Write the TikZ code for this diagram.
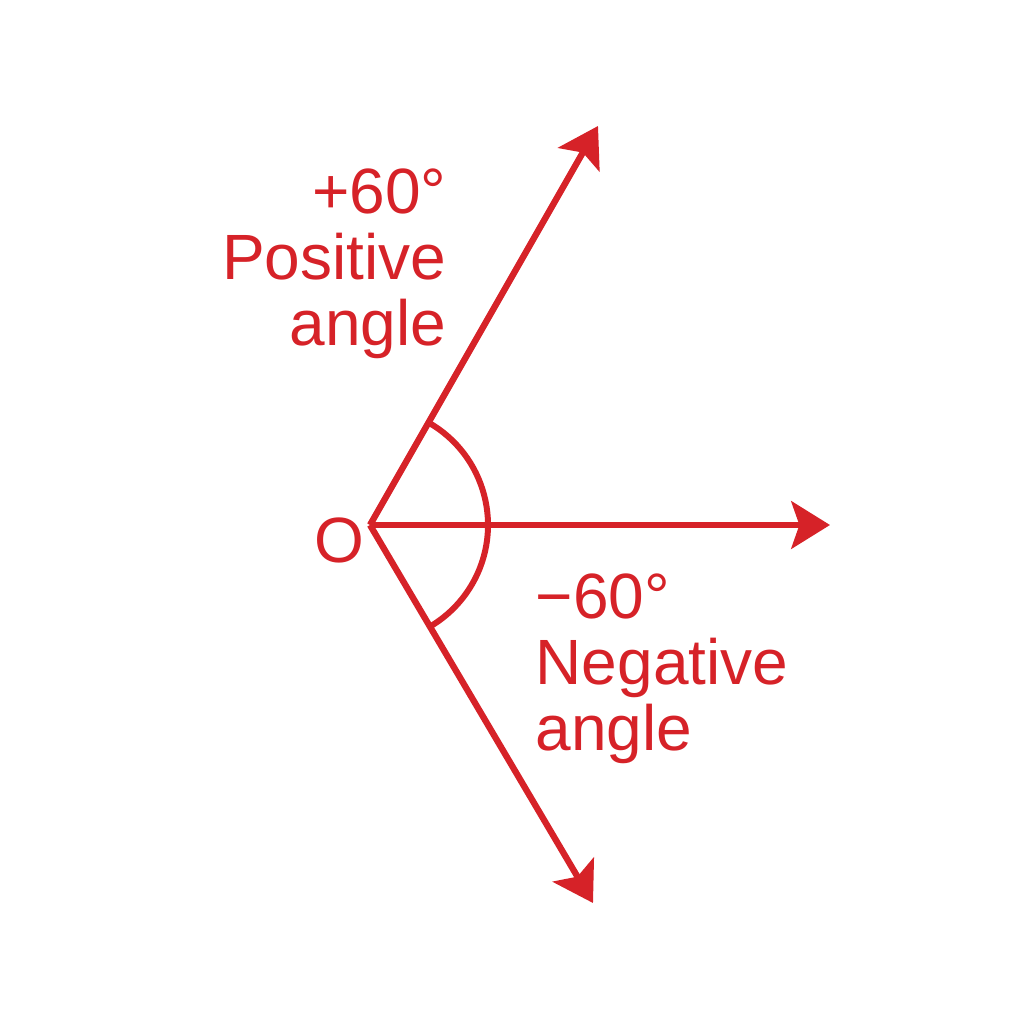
\documentclass[tikz,border=0pt]{standalone}
\usepackage{fontspec}
\setmainfont{Liberation Sans}
\usetikzlibrary{arrows.meta}
\definecolor{angred}{RGB}{214,34,40}
\newcommand{\anglab}[1]{\fontsize{18.2}{18.8}\selectfont #1}

\begin{document}
\begin{tikzpicture}[x=0.01cm, y=0.01cm,
        ray/.style={draw=angred, line width=1.8pt,
            -{Stealth[length=11pt, width=13.5pt, inset=2.3pt]}},
        lab/.style={text=angred, inner sep=0pt, font=\anglab{}}]
        % page
        \useasboundingbox (-370,-499) rectangle (654,525);
        % points
        \coordinate (O) at (0,0);
        \coordinate (pos) at (228,399);
        \coordinate (ref) at (460,0);
        \coordinate (neg) at (223,-378);
        % rays
        \draw[ray] (O) -- (pos);
        \draw[ray] (O) -- (ref);
        \draw[ray] (O) -- (neg);
        % arc
        \draw[angred, line width=1.7pt] ([shift={(60:118)}]O) arc[start angle=60, end angle=-60, radius=118];
        % labels
        \node[lab] (o) at (-31,-15) {O};
        \node[lab, anchor=north east, align=right] (poslab) at (77,357) {+60°\\Positive\\angle};
        \node[lab, anchor=north west, align=left] (neglab) at (165,-48) {−60°\\Negative\\angle};
    \end{tikzpicture}
\end{document}
